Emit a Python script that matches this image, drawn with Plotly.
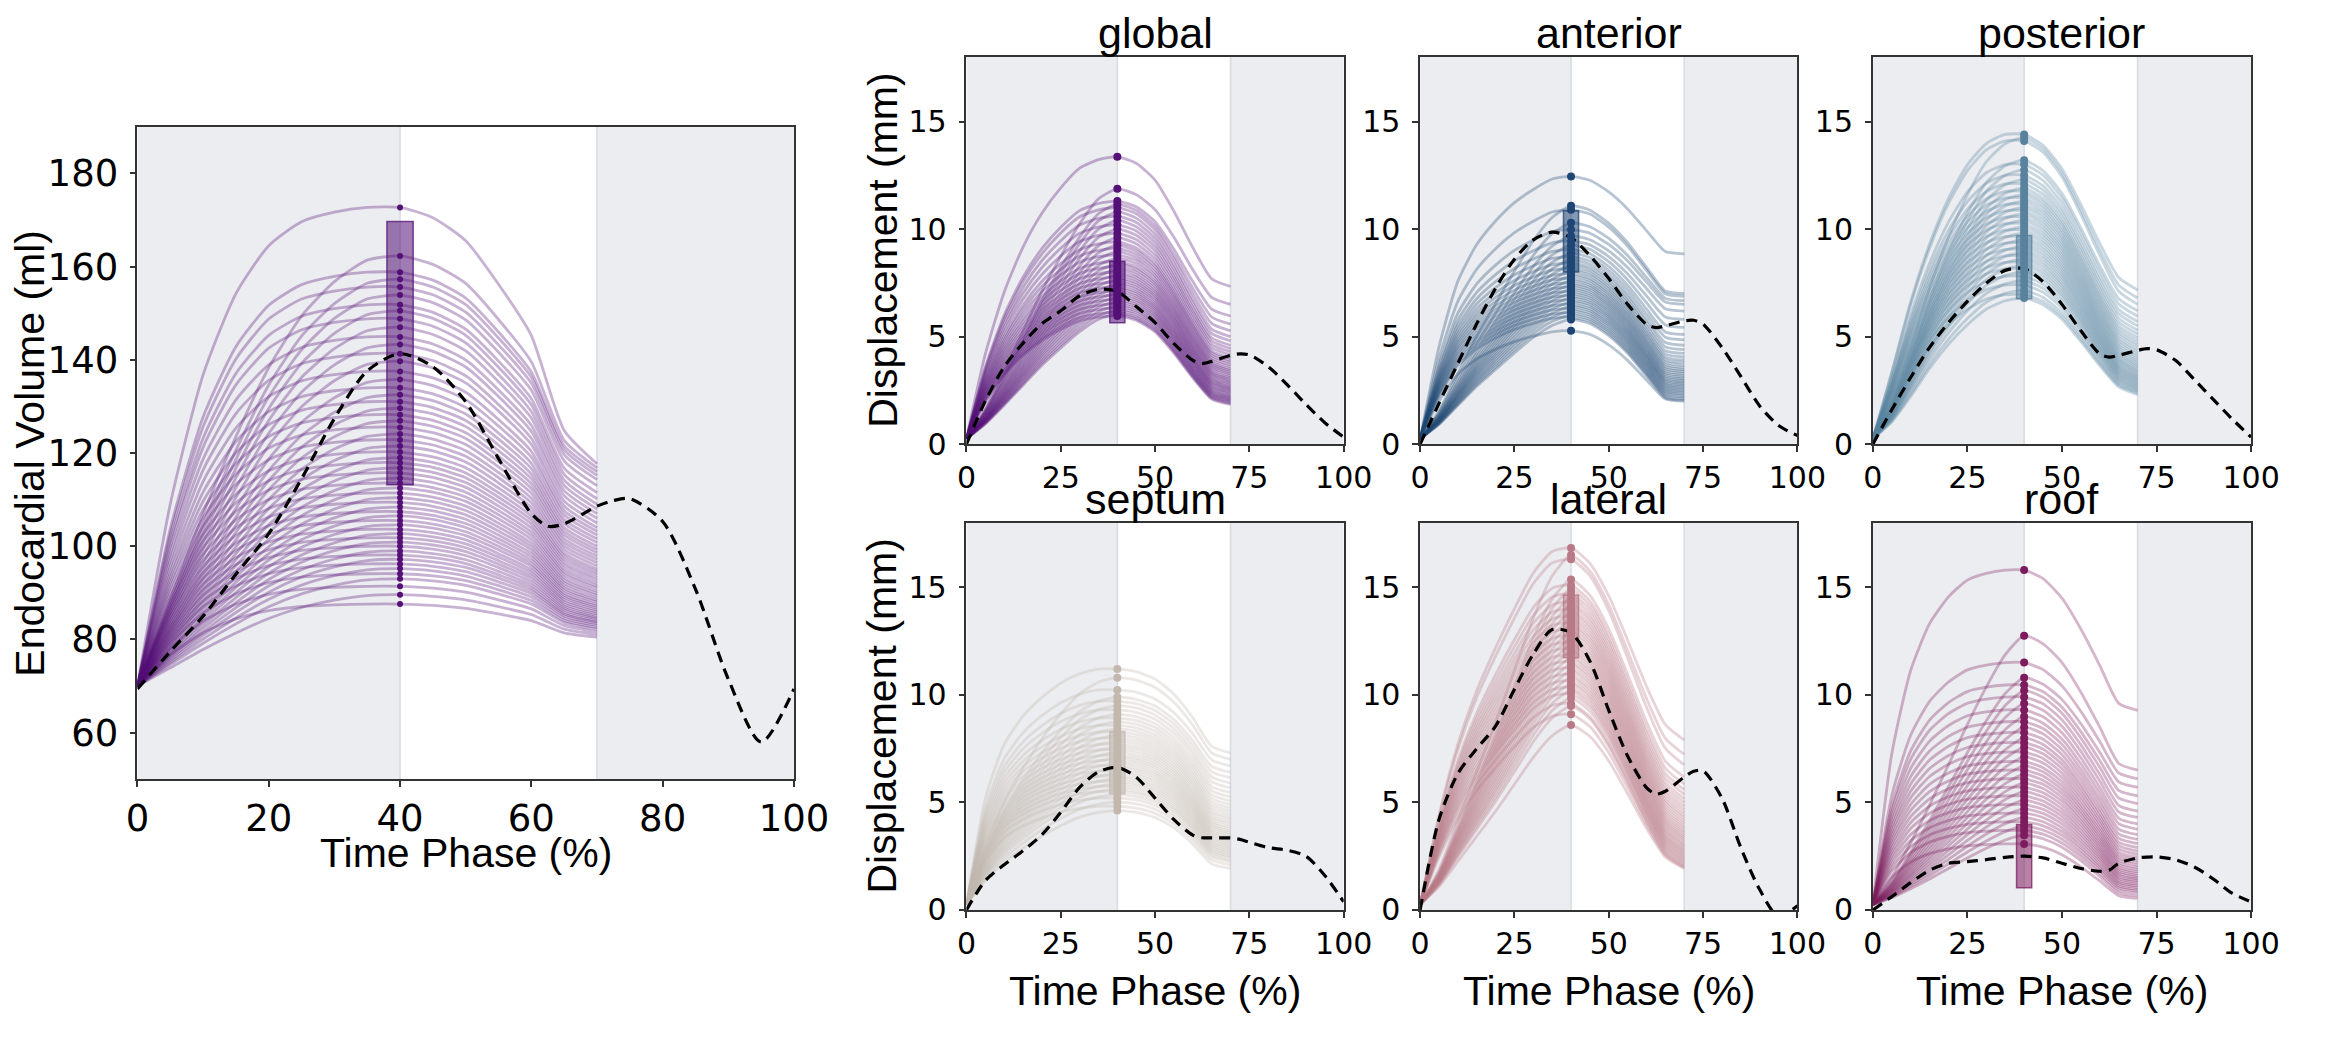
import plotly.graph_objects as go

# ---- time grids (percent of cycle) ----
rise_x = [0, 5, 10, 15, 20, 25, 30, 35, 40]
fall_x = [45, 50, 55, 60, 65, 70]
mean_x = [0, 5, 10, 15, 20, 25, 30, 35, 40, 45, 50, 55, 60, 62.5, 65, 70, 72.5, 75, 80, 85, 90, 95, 100]

# ---- endocardial volume (ml) ----
vol_start = 70
vol_peaks = [172.7, 162.3, 158.8, 157.3, 155.6, 153.9, 151.8, 150.5, 148.8, 147.0,
             144.9, 143.3, 141.3, 139.7, 137.5, 135.8, 134.0, 132.5, 131.0, 129.6,
             128.2, 126.9, 125.5, 124.1, 122.8, 121.5, 120.2, 119.0, 117.9, 116.8,
             115.7, 114.6, 113.5, 112.5, 111.4, 110.4, 109.4, 108.4, 107.4, 106.5,
             105.5, 104.6, 103.6, 102.7, 101.8, 100.9, 100.0, 99.0, 98.1, 97.2,
             96.2, 95.2, 94.1, 93.0, 91.4, 89.6, 87.6]
vol_ends = [117.7, 116.8, 116.0, 115.2, 114.3, 113.0, 111.5, 110.2, 109.0, 108.0,
            107.0, 106.0, 105.0, 104.0, 103.2, 102.4, 101.6, 100.8, 100.0, 99.3,
            98.6, 97.9, 97.2, 96.5, 95.8, 95.1, 94.5, 93.9, 93.3, 92.7,
            92.1, 91.5, 91.0, 90.4, 89.9, 89.4, 88.9, 88.4, 88.0, 87.5,
            87.1, 86.7, 86.3, 85.9, 85.5, 85.1, 84.7, 84.4, 84.0, 83.7,
            83.4, 83.0, 82.6, 82.2, 81.7, 81.1, 80.5]
vol_mean = [69.4, 77.4, 85.0, 94.0, 102.7, 114.5, 127.4, 137.6, 141.3, 138.5, 131.0, 118.8,
            107.0, 104.3, 104.8, 108.6, 109.8, 110.2, 105.3, 90.8, 71.5, 58.0, 69.4]
vol_box = [113.2, 169.7]
vol_rise_fast = [0, .38, .65, .82, .92, .97, .99, 1, 1]
vol_rise_slow = [0, .2, .4, .58, .74, .86, .94, .99, 1]
vol_fall = [.96, .87, .7, .5, .13, 0]

# ---- regional displacement (mm) ----
glob_peaks = [13.36, 11.87, 11.3, 11.15, 11.0, 10.8, 10.6, 10.4, 10.2, 10.0,
              9.8, 9.6, 9.4, 9.25, 9.1, 8.95, 8.8, 8.65, 8.5, 8.38,
              8.25, 8.12, 8.0, 7.88, 7.76, 7.65, 7.54, 7.43, 7.32, 7.22,
              7.12, 7.02, 6.92, 6.82, 6.72, 6.62, 6.52, 6.42, 6.32, 6.22,
              6.12, 6.04, 5.96]
glob_ends = [7.33, 6.5, 5.96, 5.58, 5.27, 5.0, 4.8, 4.6, 4.45, 4.3,
             4.15, 4.0, 3.9, 3.8, 3.7, 3.6, 3.5, 3.42, 3.34, 3.26,
             3.18, 3.1, 3.03, 2.96, 2.89, 2.82, 2.75, 2.68, 2.62, 2.56,
             2.5, 2.44, 2.38, 2.32, 2.26, 2.2, 2.15, 2.1, 2.05, 2.0,
             1.95, 1.9, 1.85]
glob_mean = [0.0, 2.0, 3.6, 4.7, 5.6, 6.2, 6.9, 7.2, 7.1, 6.4, 5.65, 4.67,
             3.9, 3.75, 3.85, 4.13, 4.2, 4.15, 3.6, 2.77, 1.85, 1.0, 0.33]
glob_box = [5.65, 8.5]
glob_rise_fast = [0, .3, .52, .68, .8, .89, .96, .99, 1]
glob_rise_slow = [0, .12, .27, .43, .59, .73, .86, .96, 1]
glob_fall = [.95, .82, .58, .3, .06, 0]

ant_peaks = [12.45, 11.08, 10.9, 10.29, 9.98, 9.68, 9.45, 9.25, 9.05, 8.88,
             8.72, 8.57, 8.43, 8.3, 8.17, 8.05, 7.93, 7.82, 7.71, 7.6,
             7.5, 7.4, 7.3, 7.2, 7.1, 7.0, 6.9, 6.8, 6.7, 6.6,
             6.5, 6.4, 6.3, 6.2, 6.1, 6.0, 5.9, 5.8, 5.27]
ant_ends = [8.85, 7.0, 6.87, 6.67, 6.5, 6.19, 5.8, 5.43, 5.1, 4.85,
            4.6, 4.4, 4.22, 4.06, 3.92, 3.8, 3.68, 3.57, 3.47, 3.38,
            3.29, 3.2, 3.12, 3.04, 2.96, 2.89, 2.82, 2.75, 2.68, 2.61,
            2.54, 2.47, 2.4, 2.33, 2.26, 2.19, 2.12, 2.05, 2.0]
ant_mean = [0.0, 1.9, 3.75, 5.6, 7.25, 8.6, 9.5, 9.86, 9.6, 8.77, 7.7, 6.5,
            5.58, 5.42, 5.5, 5.73, 5.76, 5.58, 4.5, 3.15, 1.78, 0.87, 0.4]
ant_box = [8.0, 10.85]
ant_rise_fast = [0, .35, .6, .74, .83, .9, .95, .99, 1]
ant_rise_slow = [0, .12, .28, .44, .58, .72, .85, .95, 1]
ant_fall = [.95, .8, .58, .3, .03, 0]

post_peaks = [14.4, 14.25, 14.1, 13.2, 13.0, 12.75, 12.5, 12.3, 12.1, 11.9,
              11.75, 11.6, 11.45, 11.3, 11.15, 11.0, 10.85, 10.7, 10.55, 10.4,
              10.25, 10.1, 9.95, 9.8, 9.65, 9.5, 9.35, 9.2, 9.05, 8.9,
              8.75, 8.6, 8.45, 8.3, 8.15, 8.0, 7.8, 7.6, 7.4, 7.15,
              6.95, 6.8]
post_ends = [7.17, 6.8, 6.5, 6.2, 5.95, 5.7, 5.5, 5.3, 5.12, 4.95,
             4.8, 4.66, 4.53, 4.4, 4.28, 4.17, 4.06, 3.96, 3.86, 3.77,
             3.68, 3.6, 3.52, 3.44, 3.37, 3.3, 3.23, 3.16, 3.1, 3.04,
             2.98, 2.92, 2.86, 2.8, 2.74, 2.68, 2.62, 2.56, 2.5, 2.44,
             2.38, 2.3]
post_mean = [0.0, 1.6, 3.1, 4.5, 5.65, 6.64, 7.48, 8.08, 8.16, 7.55, 6.5, 5.27,
             4.2, 4.05, 4.13, 4.36, 4.44, 4.39, 3.9, 3.0, 2.08, 1.17, 0.33]
post_box = [6.76, 9.7]
post_rise_fast = [0, .22, .45, .64, .79, .9, .97, 1, 1]
post_rise_slow = [0, .12, .3, .5, .67, .81, .92, .98, 1]
post_fall = [.93, .78, .55, .3, .08, 0]

sept_peaks = [11.2, 10.8, 10.23, 9.9, 9.7, 9.5, 9.3, 9.1, 8.92, 8.75,
              8.58, 8.42, 8.27, 8.12, 7.98, 7.84, 7.7, 7.57, 7.44, 7.31,
              7.18, 7.06, 6.94, 6.82, 6.7, 6.58, 6.46, 6.34, 6.22, 6.1,
              5.98, 5.86, 5.74, 5.62, 5.5, 5.36, 5.2, 5.02, 4.82, 4.62]
sept_ends = [7.3, 7.0, 6.7, 6.4, 6.15, 5.9, 5.68, 5.46, 5.26, 5.07,
             4.9, 4.74, 4.59, 4.45, 4.32, 4.2, 4.08, 3.97, 3.86, 3.76,
             3.66, 3.57, 3.48, 3.39, 3.31, 3.23, 3.15, 3.07, 2.99, 2.91,
             2.83, 2.75, 2.67, 2.59, 2.51, 2.43, 2.34, 2.24, 2.1, 1.93]
sept_mean = [0.0, 1.36, 2.1, 2.75, 3.5, 4.54, 5.7, 6.42, 6.63, 6.18, 5.2, 4.2,
             3.48, 3.36, 3.35, 3.35, 3.28, 3.15, 2.9, 2.78, 2.5, 1.6, 0.38]
sept_box = [5.4, 8.3]
sept_rise_fast = [0, .45, .68, .8, .88, .94, .98, 1, 1]
sept_rise_slow = [0, .25, .45, .6, .73, .84, .93, .98, 1]
sept_fall = [.97, .88, .7, .42, .08, 0]

lat_peaks = [16.83, 16.5, 16.3, 15.36, 15.1, 14.9, 14.7, 14.5, 14.32, 14.15,
             13.98, 13.82, 13.66, 13.5, 13.35, 13.2, 13.05, 12.9, 12.75, 12.6,
             12.45, 12.3, 12.15, 12.0, 11.85, 11.7, 11.55, 11.4, 11.25, 11.1,
             10.95, 10.8, 10.65, 10.5, 10.35, 10.2, 10.05, 9.85, 9.6, 9.48,
             9.1, 8.6]
lat_ends = [7.9, 7.24, 6.75, 6.18, 5.85, 5.6, 5.38, 5.18, 5.0, 4.83,
            4.67, 4.52, 4.38, 4.25, 4.12, 4.0, 3.88, 3.77, 3.66, 3.56,
            3.46, 3.37, 3.28, 3.19, 3.1, 3.02, 2.94, 2.86, 2.78, 2.71,
            2.64, 2.57, 2.5, 2.43, 2.36, 2.29, 2.22, 2.15, 2.08, 2.02,
            1.97, 1.93]
lat_mean = [0.0, 4.2, 6.34, 7.5, 8.55, 10.26, 11.9, 13.04, 12.88, 11.57, 9.28, 7.16,
            5.69, 5.39, 5.52, 6.18, 6.45, 6.47, 5.2, 2.9, 0.95, -0.3, 0.2]
lat_box = [11.73, 14.64]
lat_rise_fast = [0, .25, .45, .6, .72, .83, .93, .99, 1]
lat_rise_slow = [0, .1, .24, .38, .52, .67, .82, .94, 1]
lat_fall = [.92, .75, .52, .28, .08, 0]

roof_peaks = [15.8, 12.75, 11.5, 10.8, 10.46, 10.2, 9.9, 9.6, 9.3, 9.0,
              8.75, 8.5, 8.25, 8.0, 7.78, 7.56, 7.34, 7.12, 6.9, 6.7,
              6.5, 6.3, 6.1, 5.9, 5.7, 5.5, 5.3, 5.1, 4.9, 4.7,
              4.5, 4.3, 4.1, 3.9, 3.7, 3.48, 3.07]
roof_ends = [9.28, 6.5, 6.1, 5.7, 5.3, 4.95, 4.6, 4.3, 4.0, 3.75,
             3.5, 3.28, 3.08, 2.9, 2.74, 2.59, 2.45, 2.32, 2.2, 2.09,
             1.98, 1.88, 1.78, 1.69, 1.6, 1.52, 1.44, 1.36, 1.28, 1.2,
             1.12, 1.04, 0.96, 0.88, 0.78, 0.66, 0.54]
roof_mean = [0.0, 0.62, 1.27, 1.85, 2.17, 2.25, 2.34, 2.45, 2.5, 2.42, 2.17, 1.93,
             1.8, 1.85, 2.17, 2.42, 2.46, 2.47, 2.34, 2.0, 1.44, 0.78, 0.38]
roof_box = [1.03, 3.97]
roof_rise_fast = [0, .45, .7, .84, .92, .97, .99, 1, 1]
roof_rise_slow = [0, .1, .23, .37, .52, .67, .81, .93, 1]
roof_fall = [.94, .8, .58, .32, .05, 0]

disp_start = 0.25

# pixel boxes of each axes: [left, right], [top, bottom]
ROW1, ROW2 = [58, 452], [532, 926]
panels = [
    dict(name="", start=vol_start, peaks=vol_peaks, ends=vol_ends, mean=vol_mean, box=vol_box,
         fast=vol_rise_fast, slow=vol_rise_slow, fall=vol_fall, rgb=(84, 16, 118),
         xd=[128, 798], yd=[129, 793], yrange=[50, 190], ytv=[60, 80, 100, 120, 140, 160, 180],
         xtv=[0, 20, 40, 60, 80, 100], big=True),
    dict(name="global", start=disp_start, peaks=glob_peaks, ends=glob_ends, mean=glob_mean, box=glob_box,
         fast=glob_rise_fast, slow=glob_rise_slow, fall=glob_fall, rgb=(84, 16, 118),
         xd=[974, 1359], yd=ROW1),
    dict(name="anterior", start=disp_start, peaks=ant_peaks, ends=ant_ends, mean=ant_mean, box=ant_box,
         fast=ant_rise_fast, slow=ant_rise_slow, fall=ant_fall, rgb=(31, 70, 116),
         xd=[1437, 1822], yd=ROW1),
    dict(name="posterior", start=disp_start, peaks=post_peaks, ends=post_ends, mean=post_mean, box=post_box,
         fast=post_rise_fast, slow=post_rise_slow, fall=post_fall, rgb=(88, 130, 158),
         xd=[1899, 2285], yd=ROW1),
    dict(name="septum", start=disp_start, peaks=sept_peaks, ends=sept_ends, mean=sept_mean, box=sept_box,
         fast=sept_rise_fast, slow=sept_rise_slow, fall=sept_fall, rgb=(194, 184, 174),
         xd=[974, 1359], yd=ROW2),
    dict(name="lateral", start=disp_start, peaks=lat_peaks, ends=lat_ends, mean=lat_mean, box=lat_box,
         fast=lat_rise_fast, slow=lat_rise_slow, fall=lat_fall, rgb=(184, 122, 134),
         xd=[1437, 1822], yd=ROW2),
    dict(name="roof", start=disp_start, peaks=roof_peaks, ends=roof_ends, mean=roof_mean, box=roof_box,
         fast=roof_rise_fast, slow=roof_rise_slow, fall=roof_fall, rgb=(125, 27, 94),
         xd=[1899, 2285], yd=ROW2),
]

W, H = 2339, 1041
TITLE_FONT = "Liberation Sans, Arial, sans-serif"
TICK_FONT = "DejaVu Sans, sans-serif"


def rgba(rgb, a):
    return f"rgba({rgb[0]},{rgb[1]},{rgb[2]},{a})"


def subject_curve(start, peak, end, rise, fall):
    up = [start + (peak - start) * r for r in rise]
    down = [end + (peak - end) * f for f in fall]
    return up + down


fig = go.Figure()
layout = {}
annotations = []
shapes = []
curve_x = rise_x + fall_x

for i, p in enumerate(panels):
    k = "" if i == 0 else str(i + 1)
    xa, ya = "x" + k, "y" + k
    rgb = p["rgb"]
    big = p.get("big", False)

    # individual subjects
    for j, (pk, en) in enumerate(zip(p["peaks"], p["ends"])):
        rise = p["fast"] if j % 2 == 0 else p["slow"]
        fig.add_trace(go.Scatter(
            x=curve_x, y=subject_curve(p["start"], pk, en, rise, p["fall"]),
            mode="lines", line=dict(color=rgba(rgb, 0.32), width=2.8, shape="spline", smoothing=0.6),
            hoverinfo="skip", xaxis=xa, yaxis=ya))

    # spread box at the 40% phase
    lo, hi = p["box"]
    fig.add_trace(go.Bar(
        x=[40], y=[hi - lo], base=[lo], width=4,
        marker=dict(color=rgba(rgb, 0.55), line=dict(color=rgba(rgb, 0.75), width=1.5)),
        hoverinfo="skip", xaxis=xa, yaxis=ya))

    # reference curve
    fig.add_trace(go.Scatter(
        x=mean_x, y=p["mean"], mode="lines",
        line=dict(color="black", width=3.2, dash="11px,7px", shape="spline", smoothing=0.8),
        hoverinfo="skip", xaxis=xa, yaxis=ya))

    # peak markers
    fig.add_trace(go.Scatter(
        x=[40] * len(p["peaks"]), y=p["peaks"], mode="markers",
        marker=dict(color=rgba(rgb, 1), size=6 if big else 8, line=dict(width=0)),
        hoverinfo="skip", xaxis=xa, yaxis=ya))

    xdom = [p["xd"][0] / W, p["xd"][1] / W]
    ydom = [1 - p["yd"][1] / H, 1 - p["yd"][0] / H]
    tick_size = 37 if big else 30
    axis_common = dict(showline=True, mirror=True, linecolor="#333333", linewidth=1.6,
                       ticks="outside", ticklen=6, tickwidth=1.6, tickcolor="#333333",
                       showgrid=False, zeroline=False,
                       tickfont=dict(family=TICK_FONT, size=tick_size, color="black"))
    layout["xaxis" + k] = dict(axis_common, domain=xdom, range=[0, 100], anchor=ya,
                               tickvals=p.get("xtv", [0, 25, 50, 75, 100]))
    layout["yaxis" + k] = dict(axis_common, domain=ydom, range=p.get("yrange", [0, 18]), anchor=xa,
                               tickvals=p.get("ytv", [0, 5, 10, 15]), ticklabelstandoff=4 if big else 6)

    # phase shading
    for x0, x1 in [(0, 40), (70, 100)]:
        shapes.append(dict(type="rect", xref=xa, yref=ya + " domain", x0=x0, x1=x1, y0=0, y1=1,
                           fillcolor="#ECEDF0", line=dict(width=0), layer="below"))
    for xv in [40, 70]:
        shapes.append(dict(type="line", xref=xa, yref=ya + " domain", x0=xv, x1=xv, y0=0, y1=1,
                           line=dict(color="#D9DCE2", width=1.6), layer="below"))

    xc = (xdom[0] + xdom[1]) / 2
    if p["name"]:
        annotations.append(dict(text=p["name"], x=xc, y=ydom[1], xref="paper", yref="paper",
                                xanchor="center", yanchor="bottom", yshift=-2, showarrow=False,
                                font=dict(family=TITLE_FONT, size=43, color="black")))

# axis titles
lab = dict(family=TITLE_FONT, size=41, color="black")
axis_titles = [
    dict(text="Endocardial Volume (ml)", x=18 / W, y=1 - 461 / H, textangle=-90, font=lab),
    dict(text="Time Phase (%)", x=463 / W, y=1 - 868 / H, font=lab),
    dict(text="Displacement (mm)", x=888 / W, y=1 - 255 / H, textangle=-90, font=lab),
    dict(text="Displacement (mm)", x=888 / W, y=1 - 729 / H, textangle=-90, font=lab),
    dict(text="Time Phase (%)", x=1166 / W, y=1 - 1008 / H, font=lab),
    dict(text="Time Phase (%)", x=1630 / W, y=1 - 1008 / H, font=lab),
    dict(text="Time Phase (%)", x=2092 / W, y=1 - 1008 / H, font=lab),
]
for a in axis_titles:
    a.update(xref="paper", yref="paper", xanchor="center", yanchor="middle", showarrow=False)
annotations += axis_titles

fig.update_layout(
    width=W, height=H, margin=dict(l=0, r=0, t=0, b=0),
    paper_bgcolor="white", plot_bgcolor="white",
    showlegend=False, shapes=shapes, annotations=annotations,
    **layout,
)

fig.write_html("out.html", config={"displayModeBar": False},
               post_script="document.body.style.margin='0';")
